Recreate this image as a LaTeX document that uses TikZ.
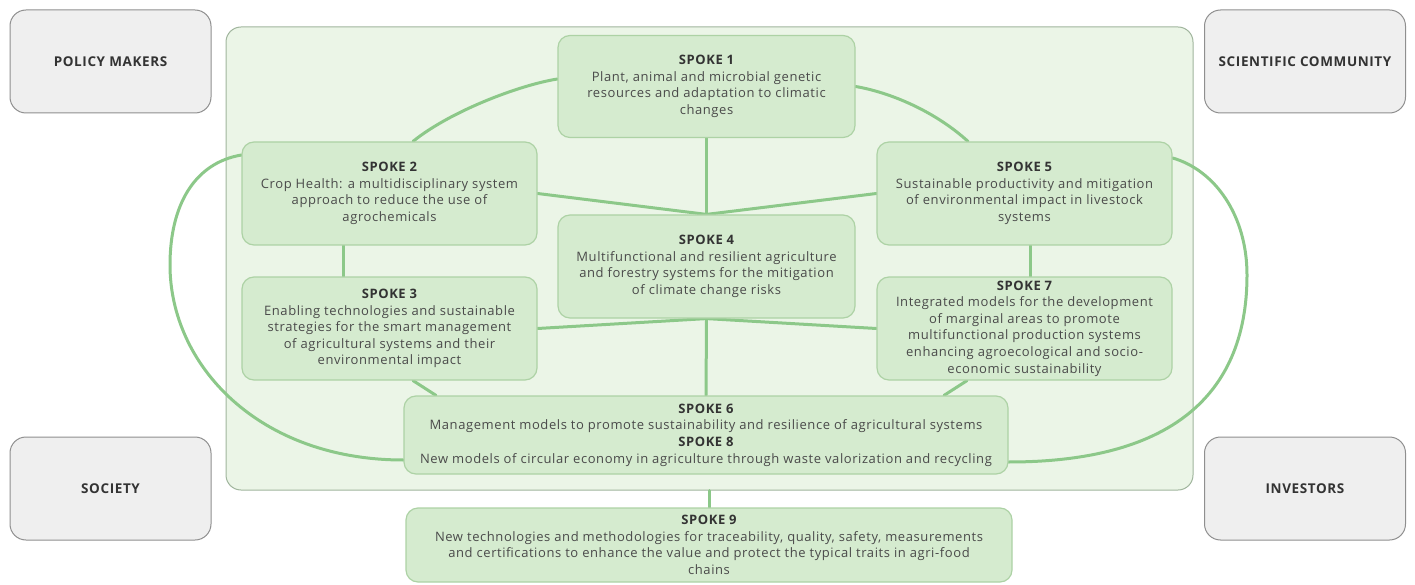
\documentclass[tikz,border=0pt]{standalone}
\usepackage{fontspec}
\setmainfont[LetterSpace=4.5]{Open Sans}
\usetikzlibrary{positioning}
\definecolor{hubfill}{HTML}{EBF5E7}
\definecolor{hubborder}{HTML}{A0B59D}
\definecolor{spokefill}{HTML}{D5EBCF}
\definecolor{spokeborder}{HTML}{ADD2A5}
\definecolor{linkgreen}{HTML}{8CC889}
\definecolor{actorfill}{HTML}{EFEFEF}
\definecolor{actorborder}{HTML}{8F8F8F}
\definecolor{bodytext}{HTML}{4A4A4A}
\definecolor{headtext}{HTML}{333333}
\pgfdeclarelayer{bg}
\pgfsetlayers{bg,main}
\newcommand{\spokehead}[1]{{\color{headtext}\bfseries #1}}
\tikzset{
  spokebox/.style={draw=spokeborder, fill=spokefill, line width=1.2pt,
    rounded corners=12pt, align=center, inner sep=0pt, text=bodytext,
    font=\fontsize{13}{16.6}\selectfont},
  actor/.style={draw=actorborder, fill=actorfill, line width=1pt,
    rounded corners=16pt, minimum width=201pt, minimum height=103pt,
    text=headtext, font=\fontsize{13.5}{15}\selectfont\bfseries},
  hub/.style={draw=hubborder, fill=hubfill, line width=1pt,
    rounded corners=15pt, minimum width=967pt, minimum height=463pt},
  link/.style={draw=linkgreen, line width=3pt, line cap=round}
}
\begin{document}
\begin{tikzpicture}[x=1pt,y=-1pt]
\useasboundingbox (0,0) rectangle (1415,585);
\begin{pgfonlayer}{bg}
  \node[hub] (hub) at (709.5,258.5) {};
\end{pgfonlayer}
% actors
\node[actor] (pm)  at (110.5,61.5) {POLICY MAKERS};
\node[actor] (sc)  at (1305,61.5) {SCIENTIFIC COMMUNITY};
\node[actor] (so)  at (110.5,488.5) {SOCIETY};
\node[actor] (inv) at (1305,488.5) {INVESTORS};
% spokes
\node[spokebox, minimum width=297pt, minimum height=102pt] (s1) at (706.5,86.5)
  {\spokehead{SPOKE 1}\\Plant, animal and microbial genetic\\resources and adaptation to climatic\\changes};
\node[spokebox, minimum width=295pt, minimum height=103pt] (s2) at (389.5,193.5)
  {\spokehead{SPOKE 2}\\Crop Health: a multidisciplinary system\\approach to reduce the use of\\agrochemicals};
\node[spokebox, minimum width=295pt, minimum height=103pt] (s3) at (389.5,328.5)
  {\spokehead{SPOKE 3}\\Enabling technologies and sustainable\\strategies for the smart management\\of agricultural systems and their\\environmental impact};
\node[spokebox, minimum width=297pt, minimum height=103pt] (s4) at (706.5,266.5)
  {\spokehead{SPOKE 4}\\Multifunctional and resilient agriculture\\and forestry systems for the mitigation\\of climate change risks};
\node[spokebox, minimum width=295pt, minimum height=103pt] (s5) at (1024.5,193.5)
  {\spokehead{SPOKE 5}\\Sustainable productivity and mitigation\\of environmental impact in livestock\\systems};
\node[spokebox, minimum width=295pt, minimum height=103pt] (s7) at (1024.5,328.5)
  {\spokehead{SPOKE 7}\\Integrated models for the development\\of marginal areas to promote\\multifunctional production systems\\enhancing agroecological and socio-\\economic sustainability};
\node[spokebox, minimum width=604pt, minimum height=78pt] (s6) at (706,435)
  {\spokehead{SPOKE 6}\\Management models to promote sustainability and resilience of agricultural systems\\\spokehead{SPOKE 8}\\New models of circular economy in agriculture through waste valorization and recycling};
\node[spokebox, minimum width=606pt, minimum height=74pt] (s9) at (709,545)
  {\spokehead{SPOKE 9}\\New technologies and methodologies for traceability, quality, safety, measurements\\and certifications to enhance the value and protect the typical traits in agri-food\\chains};
% connectors
\begin{pgfonlayer}{bg}
  \draw[link] (s1.south) -- (s4.north);
  \draw[link] (s2.east) -- (s4.north);
  \draw[link] (s5.west) -- (s4.north);
  \draw[link] (s3.east) -- (s4.south);
  \draw[link] (s7.west) -- (s4.south);
  \draw[link] (s4.south) -- (s6.north);
  \draw[link] (hub.south -| s9.north) -- (s9.north);
  \draw[link] ([xshift=-46.5pt]s2.south) -- ([xshift=-46.5pt]s3.north);
  \draw[link] ([xshift=5.5pt]s5.south) -- ([xshift=5.5pt]s7.north);
  % inner ring
  \draw[link] ([yshift=7.5pt]s1.west) .. controls +(-38,6) and +(37,-30) .. ([xshift=23.5pt]s2.north);
  \draw[link] (s1.east) .. controls +(35,6) and +(-33,-30) .. ([xshift=-56.5pt]s5.north);
  \draw[link] ([xshift=23.5pt]s3.south) -- ([xshift=-270pt]s6.north);
  \draw[link] ([xshift=-57.5pt]s7.south) -- ([xshift=238pt]s6.north);
  % outer loops
  \draw[link] ([yshift=38.5pt]s2.west) .. controls +(-47,8) and +(0,-60) .. (170,265)
     .. controls +(0,100) and +(-145,0) .. ([yshift=-25pt]s6.west);
  \draw[link] ([yshift=35.5pt]s5.east) .. controls +(42,12) and +(0,-60) .. (1247,275)
     .. controls +(0,105) and +(180,0) .. ([yshift=-27pt]s6.east);
\end{pgfonlayer}
\end{tikzpicture}
\end{document}
